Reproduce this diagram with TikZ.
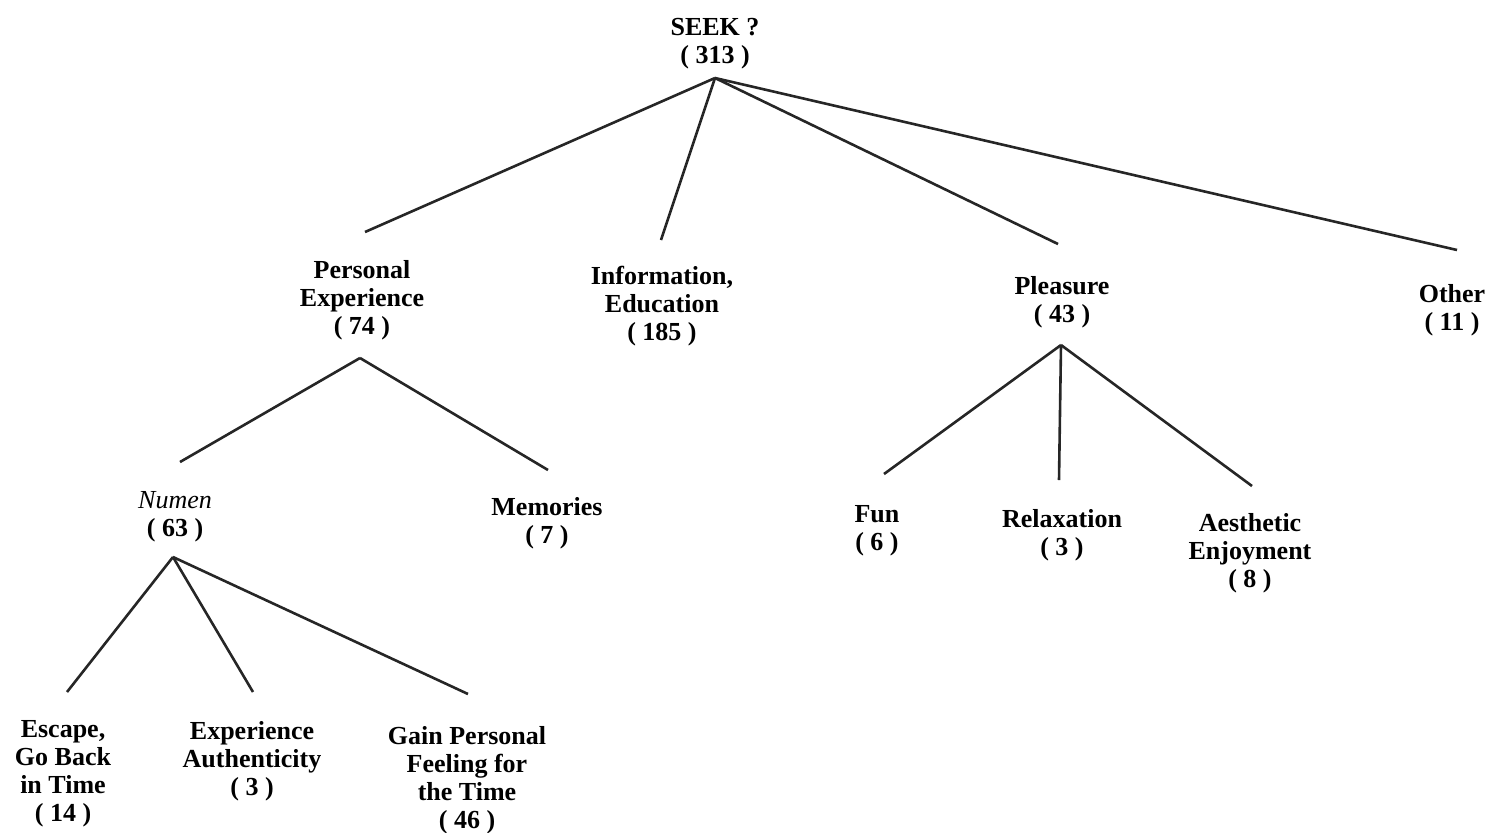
\documentclass[tikz,border=0pt]{standalone}
\usepackage{fontspec}
\setmainfont{Liberation Serif}
\begin{document}
\begin{tikzpicture}[x=0.5pt,y=-0.5pt,
  lbl/.style={align=center,inner sep=0pt,font=\bfseries\fontsize{13}{14}\selectfont},
  link/.style={line width=1.3pt,draw=black!85}]
\useasboundingbox (0,0) rectangle (1493,832);
% nodes
\node[lbl] (root) at (715,44) {SEEK ?\\( 313 )};
\node[lbl] (pe) at (362,300) {Personal\\Experience\\( 74 )};
\node[lbl] (info) at (662,306) {Information,\\Education\\( 185 )};
\node[lbl] (pleas) at (1062,302) {Pleasure\\( 43 )};
\node[lbl] (other) at (1452,310) {Other\\( 11 )};
\node[lbl] (numen) at (175,517) {\normalfont\itshape Numen\\( 63 )};
\node[lbl] (mem) at (547,523) {Memories\\( 7 )};
\node[lbl] (fun) at (877,531) {Fun\\( 6 )};
\node[lbl] (relax) at (1062,535) {Relaxation\\( 3 )};
\node[lbl] (aes) at (1250,553) {Aesthetic\\Enjoyment\\( 8 )};
\node[lbl] (esc) at (63,774) {Escape,\\Go Back\\in Time\\( 14 )};
\node[lbl] (auth) at (252,761) {Experience\\Authenticity\\( 3 )};
\node[lbl] (gain) at (467,780) {Gain Personal\\Feeling for\\the Time\\( 46 )};
% connector ends
\coordinate (root-b) at (715,78);
\coordinate (pe-t) at (365,232);
\coordinate (info-t) at (661,240);
\coordinate (pleas-t) at (1058,244);
\coordinate (other-t) at (1457,250);
\coordinate (pe-b) at (360,358);
\coordinate (numen-t) at (180,462);
\coordinate (mem-t) at (548,470);
\coordinate (pleas-b) at (1061,345);
\coordinate (fun-t) at (884,474);
\coordinate (relax-t) at (1059,480);
\coordinate (aes-t) at (1252,486);
\coordinate (numen-b) at (173,557);
\coordinate (esc-t) at (67,692);
\coordinate (auth-t) at (253,692);
\coordinate (gain-t) at (468,694);
% connectors
\draw[link] (root-b) -- (pe-t);
\draw[link] (root-b) -- (info-t);
\draw[link] (root-b) -- (pleas-t);
\draw[link] (root-b) -- (other-t);
\draw[link] (pe-b) -- (numen-t);
\draw[link] (pe-b) -- (mem-t);
\draw[link] (pleas-b) -- (fun-t);
\draw[link] (pleas-b) -- (relax-t);
\draw[link] (pleas-b) -- (aes-t);
\draw[link] (numen-b) -- (esc-t);
\draw[link] (numen-b) -- (auth-t);
\draw[link] (numen-b) -- (gain-t);
\end{tikzpicture}
\end{document}
